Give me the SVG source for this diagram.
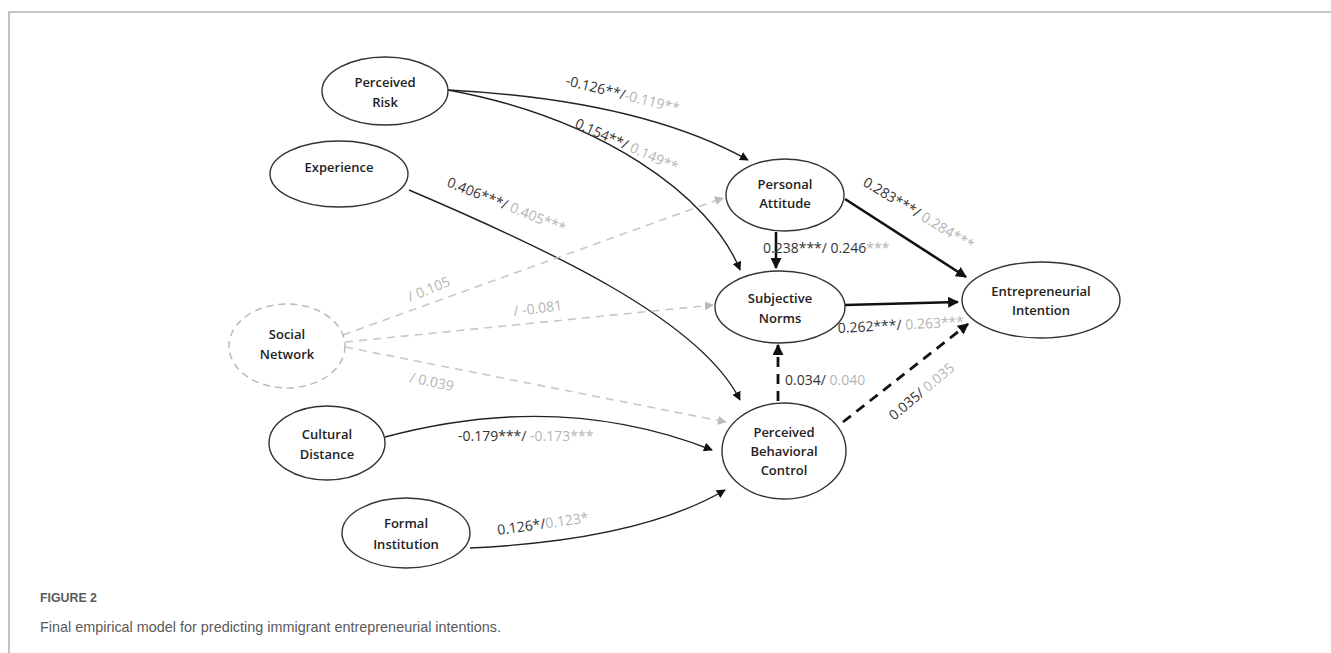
<svg xmlns="http://www.w3.org/2000/svg" width="1331" height="653" viewBox="0 0 1331 653">
<defs>
<style>
.node{fill:#fff;stroke:#333;stroke-width:1.4}
.dnode{fill:#fff;stroke:#bbb;stroke-width:1.5;stroke-dasharray:7 5}
.nt{font-family:"Open Sans","Liberation Sans",sans-serif;font-size:13px;font-weight:600;fill:#222;text-anchor:middle}
.e{fill:none;stroke:#222;stroke-width:1.4}
.et{fill:none;stroke:#111;stroke-width:2.6}
.ed{fill:none;stroke:#111;stroke-width:2.8;stroke-dasharray:10 7}
.eg{fill:none;stroke:#c8c8c8;stroke-width:1.6;stroke-dasharray:8 6}
.lb{font-family:"Open Sans","Liberation Sans",sans-serif;font-size:14px;fill:#333}
.g{fill:#b4b4b4}
.cap{font-family:"Liberation Sans",sans-serif;fill:#5a5a5a}
</style>
<marker id="ab" viewBox="0 0 10 10" refX="9" refY="5" markerWidth="9" markerHeight="9" markerUnits="userSpaceOnUse" orient="auto"><path d="M0,0 L10,5 L0,10 Z" fill="#111"/></marker>
<marker id="abt" viewBox="0 0 10 10" refX="9" refY="5" markerWidth="11" markerHeight="11" markerUnits="userSpaceOnUse" orient="auto"><path d="M0,0 L10,5 L0,10 Z" fill="#111"/></marker>
<marker id="ag" viewBox="0 0 10 10" refX="9" refY="5" markerWidth="9" markerHeight="9" markerUnits="userSpaceOnUse" orient="auto"><path d="M0,0 L10,5 L0,10 Z" fill="#bbb"/></marker>
</defs>
<rect x="0" y="0" width="1331" height="653" fill="#fff"/>
<path d="M9,653 V12 H1331" fill="none" stroke="#b5b5b5" stroke-width="1.6"/>

<g id="connectors">
<path class="e" d="M448,90 Q640,100 748,160" marker-end="url(#ab)"/>
<path class="e" d="M448,90 C600,118 710,195 740,270" marker-end="url(#ab)"/>
<path class="e" d="M409,190 C550,250 700,320 740,400" marker-end="url(#ab)"/>
<path class="e" d="M385,437 Q560,390 712,450" marker-end="url(#ab)"/>
<path class="e" d="M470,548 Q640,540 725,490" marker-end="url(#ab)"/>
<path class="eg" d="M343,335 L723,198" marker-end="url(#ag)"/>
<path class="eg" d="M345,342 L713,305" marker-end="url(#ag)"/>
<path class="eg" d="M345,347 L726,422" marker-end="url(#ag)"/>
<path class="et" d="M776,232 L776,268" marker-end="url(#abt)"/>
<path class="et" d="M845,199 L966,277" marker-end="url(#abt)"/>
<path class="et" d="M845,305 L958,302" marker-end="url(#abt)"/>
<path class="ed" d="M778,401 L778,345" marker-end="url(#abt)"/>
<path class="ed" d="M843,422 L968,324" marker-end="url(#abt)"/>
</g>

<g id="labels">
<text class="lb" transform="translate(565,85) rotate(14)">-0.126**/<tspan class="g">-0.119**</tspan></text>
<text class="lb" transform="translate(574,127) rotate(24)">0.154**/ <tspan class="g">0.149**</tspan></text>
<text class="lb" transform="translate(446,186) rotate(22)">0.406***/ <tspan class="g">0.405***</tspan></text>
<text class="lb g" transform="translate(410,302) rotate(-22)">/ 0.105</text>
<text class="lb g" transform="translate(514,316) rotate(-7)">/ -0.081</text>
<text class="lb g" transform="translate(409,382) rotate(12)">/ 0.039</text>
<text class="lb" transform="translate(458,441)">-0.179***/ <tspan class="g">-0.173***</tspan></text>
<text class="lb" transform="translate(498,535) rotate(-8)">0.126*/<tspan class="g">0.123*</tspan></text>
<text class="lb" x="763" y="253">0.238***/ 0.246<tspan class="g">***</tspan></text>
<text class="lb" transform="translate(862,185) rotate(31)">0.283***/ <tspan class="g">0.284***</tspan></text>
<text class="lb" transform="translate(838,333) rotate(-3)">0.262***/ <tspan class="g">0.263***</tspan></text>
<text class="lb" x="785" y="385">0.034/ <tspan class="g">0.040</tspan></text>
<text class="lb" transform="translate(894,421) rotate(-40)">0.035/ <tspan class="g">0.035</tspan></text>
</g>

<g id="perceived-risk"><ellipse class="node" cx="385" cy="91" rx="63" ry="34"/><text class="nt" x="385" y="87">Perceived</text><text class="nt" x="385" y="107">Risk</text></g>
<g id="experience"><ellipse class="node" cx="339" cy="174" rx="69" ry="33"/><text class="nt" x="339" y="172">Experience</text></g>
<g id="social-network"><ellipse class="dnode" cx="287" cy="346" rx="58" ry="42"/><text class="nt" x="287" y="339">Social</text><text class="nt" x="287" y="359">Network</text></g>
<g id="cultural-distance"><ellipse class="node" cx="327" cy="443" rx="58" ry="37"/><text class="nt" x="327" y="439">Cultural</text><text class="nt" x="327" y="459">Distance</text></g>
<g id="formal-institution"><ellipse class="node" cx="406" cy="533" rx="64" ry="35"/><text class="nt" x="406" y="528">Formal</text><text class="nt" x="406" y="549">Institution</text></g>
<g id="personal-attitude"><ellipse class="node" cx="785" cy="195" rx="59" ry="36"/><text class="nt" x="785" y="189">Personal</text><text class="nt" x="785" y="208">Attitude</text></g>
<g id="subjective-norms"><ellipse class="node" cx="780" cy="307" rx="65" ry="36"/><text class="nt" x="780" y="303">Subjective</text><text class="nt" x="780" y="323">Norms</text></g>
<g id="perceived-behavioral-control"><ellipse class="node" cx="784" cy="451" rx="62" ry="48"/><text class="nt" x="784" y="437">Perceived</text><text class="nt" x="784" y="456">Behavioral</text><text class="nt" x="784" y="475">Control</text></g>
<g id="entrepreneurial-intention"><ellipse class="node" cx="1041" cy="300" rx="79" ry="38"/><text class="nt" x="1041" y="296">Entrepreneurial</text><text class="nt" x="1041" y="315">Intention</text></g>

<g id="caption">
<text class="cap" x="40" y="602" font-size="12.5" font-weight="600" textLength="57" lengthAdjust="spacingAndGlyphs">FIGURE 2</text>
<text class="cap" x="40" y="632" font-size="15" textLength="461" lengthAdjust="spacingAndGlyphs">Final empirical model for predicting immigrant entrepreneurial intentions.</text>
</g>
</svg>
